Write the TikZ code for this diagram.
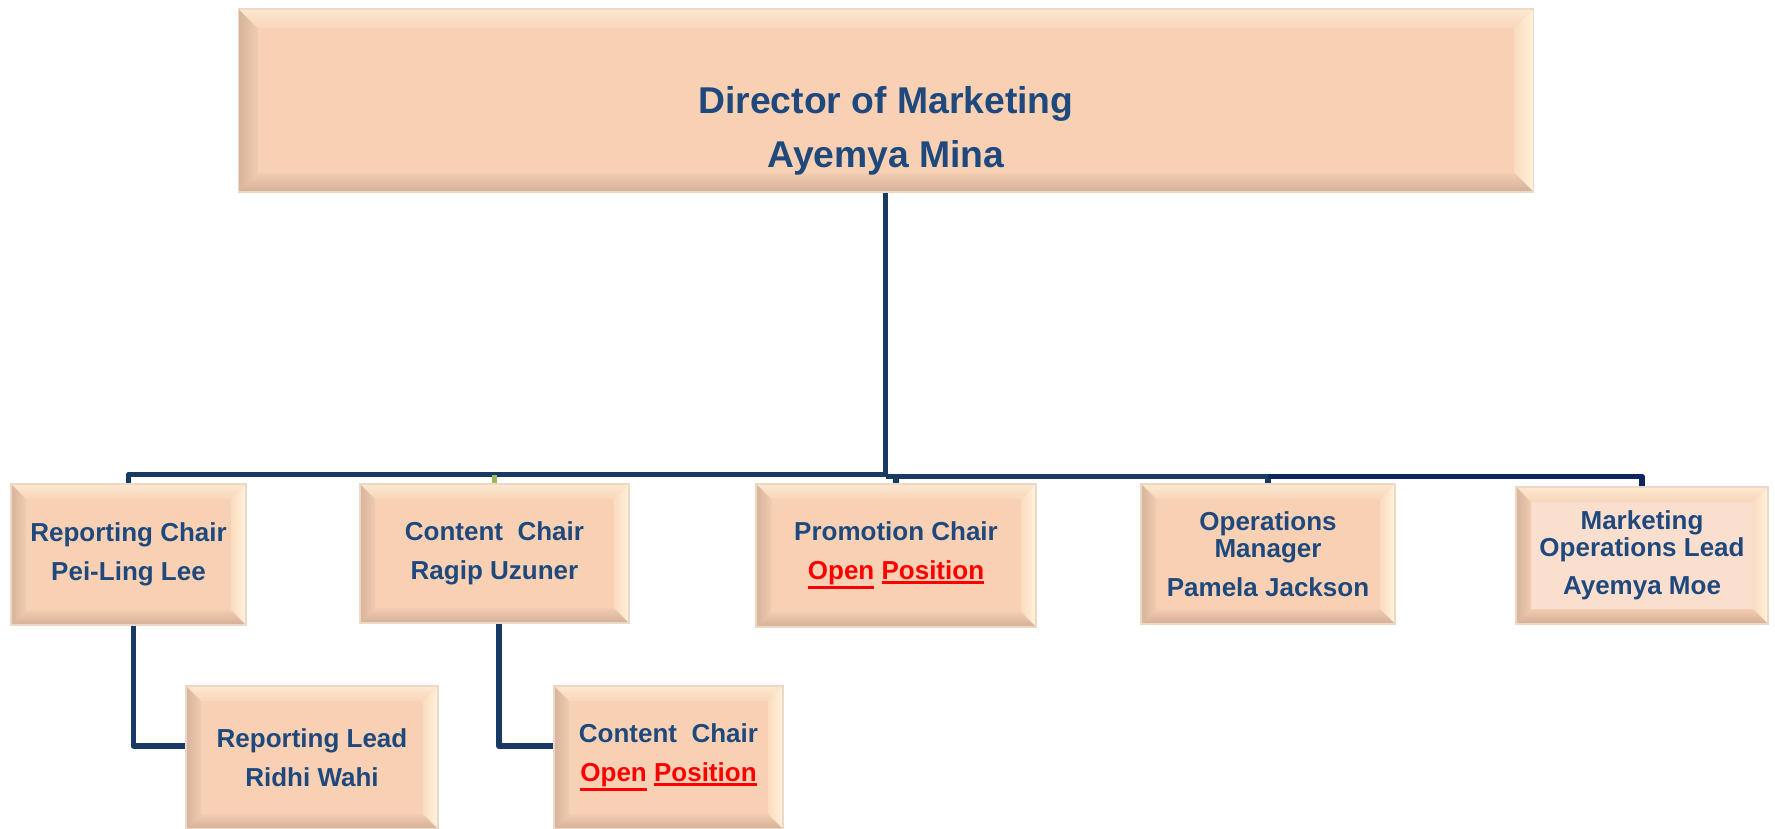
\documentclass[tikz,border=0pt]{standalone}
\usepackage{fontspec}
\setmainfont{Liberation Sans}
\definecolor{peach}{HTML}{F8D1B5}
\definecolor{peachlt}{HTML}{FADFCF}
\definecolor{bevtop}{HTML}{FDE8CF}
\definecolor{bevright}{HTML}{FFF3DA}
\definecolor{bevleft}{HTML}{D6B39C}
\definecolor{bevbot}{HTML}{D4AF97}
\definecolor{rim}{HTML}{EBD8C6}
\definecolor{txtblue}{HTML}{1F497D}
\definecolor{navy}{HTML}{1A3A66}
\definecolor{navyd}{HTML}{0E2560}
\definecolor{stubgreen}{HTML}{9BBB59}
\newcommand\openul[1]{\vtop{\hbox{#1}\kern1.5pt\hrule height 2.6pt}}
\tikzset{
  bevelbox/.style={rectangle, inner sep=0pt, fill=peach, draw=rim, line width=1.5pt,
    align=center, text=txtblue, font=\bfseries\fontsize{26}{27}\selectfont,
    path picture={
      \path (path picture bounding box.north west) coordinate (bnw)
            (path picture bounding box.north east) coordinate (bne)
            (path picture bounding box.south west) coordinate (bsw)
            (path picture bounding box.south east) coordinate (bse);
      \shade[top color=bevtop, bottom color=peach!80!bevtop]
        (bnw) -- (bne) -- ([shift={(-#1pt,-#1pt)}]bne) -- ([shift={(#1pt,-#1pt)}]bnw) -- cycle;
      \shade[right color=bevright, left color=peach!70!bevright]
        (bne) -- (bse) -- ([shift={(-#1pt,#1pt)}]bse) -- ([shift={(-#1pt,-#1pt)}]bne) -- cycle;
      \shade[bottom color=bevbot, top color=peach!85!bevbot]
        (bsw) -- (bse) -- ([shift={(-#1pt,#1pt)}]bse) -- ([shift={(#1pt,#1pt)}]bsw) -- cycle;
      \shade[left color=bevleft, right color=peach!80!bevleft]
        (bnw) -- (bsw) -- ([shift={(#1pt,#1pt)}]bsw) -- ([shift={(#1pt,-#1pt)}]bnw) -- cycle;
    }},
  bevelbox/.default=15,
  titletext/.style={align=center, text=txtblue, inner sep=0pt,
    font=\bfseries\fontsize{37.3}{54}\selectfont},
  conn/.style={draw=navy, line width=5.5pt, line join=round},
  connr/.style={draw=navyd, line width=5.5pt, line join=round},
  gstub/.style={draw=stubgreen, line width=5pt},
}
\begin{document}
\begin{tikzpicture}[x=1pt,y=-1pt]
\useasboundingbox (0,0) rectangle (1775,828);

% top box
\node[bevelbox=19, minimum width=1295pt, minimum height=183pt] (dir) at (886,100.5) {};
\node[titletext] (dirtxt) at (886,131) {Director of Marketing\\Ayemya Mina};

% level 1
\node[bevelbox, minimum width=235pt, minimum height=141pt] (rc) at (128.5,554.5)
  {Reporting Chair\\[11.5pt]Pei-Ling Lee};
\node[bevelbox, minimum width=269pt, minimum height=139pt] (cc) at (494.5,553.5)
  {Content~~Chair\\[11.5pt]Ragip Uzuner};
\node[bevelbox, minimum width=280pt, minimum height=143pt] (pc) at (896,555.5)
  {Promotion Chair\\[11.5pt]{\color{red}\openul{Open} \openul{Position}}};
\node[bevelbox, minimum width=254pt, minimum height=140pt] (om) at (1268,554)
  {Operations\\Manager\\[11.5pt]Pamela Jackson};
\node[bevelbox, fill=peachlt, minimum width=252pt, minimum height=137pt] (ml) at (1642,555.5)
  {Marketing\\Operations Lead\\[11.5pt]Ayemya Moe};

% level 2
\node[bevelbox, minimum width=252pt, minimum height=143pt] (rl) at (312,757.5)
  {Reporting Lead\\[11.5pt]Ridhi Wahi};
\node[bevelbox, minimum width=229pt, minimum height=143pt] (co) at (668.5,757.5)
  {Content~~Chair\\[11.5pt]{\color{red}\openul{Open} \openul{Position}}};

% connectors
\coordinate (bus) at (885.5,474.5);
\coordinate (busr) at (885.5,476.5);
\draw[conn] (dir.south -| bus) -- (bus);
\draw[conn] (bus) -| (rc.north);
\draw[gstub] (cc.north |- bus) -- (cc.north);
\draw[conn] (busr) -| (pc.north);
\draw[conn] (busr) -| (om.north);
\draw[connr] (om.north |- busr) -| (ml.north);
\draw[conn] ([xshift=5pt]rc.south) |- ([yshift=11.5pt]rl.west);
\draw[conn] ([xshift=4.5pt]cc.south) |- ([yshift=11.5pt]co.west);
\end{tikzpicture}
\end{document}
